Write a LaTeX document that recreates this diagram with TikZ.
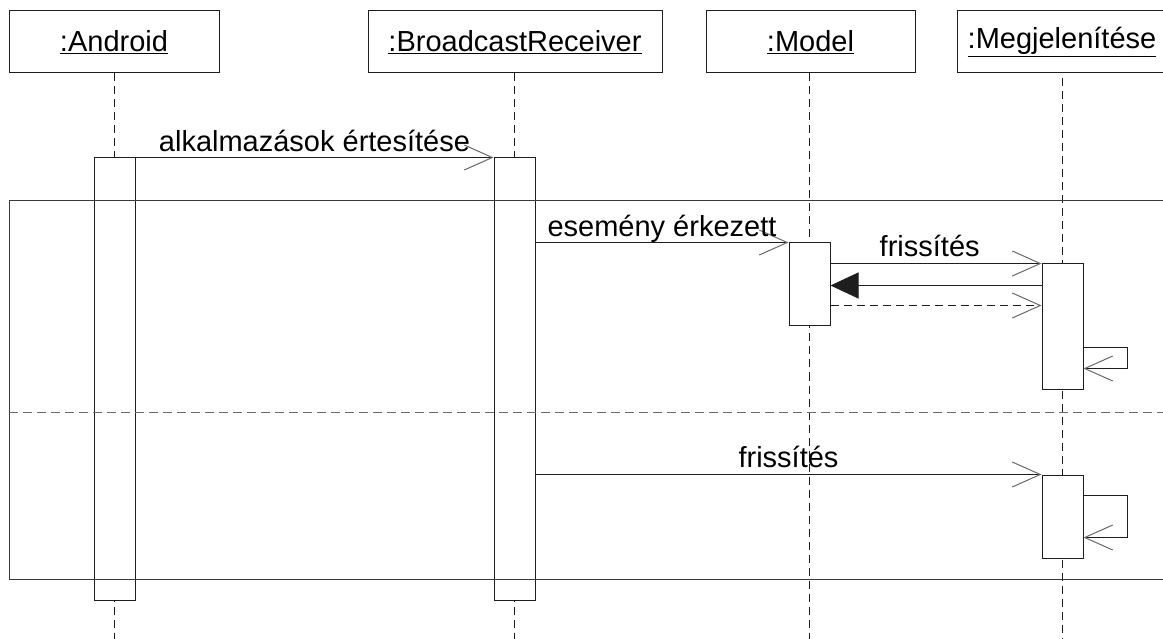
\documentclass[tikz,border=0pt]{standalone}
\usepackage{fontspec}
\setmainfont{Liberation Sans}
\usetikzlibrary{arrows.meta}
\definecolor{ln}{HTML}{1E1E1E}
\definecolor{tipc}{HTML}{6A6A6A}
\definecolor{frc}{HTML}{3A3A3A}
\tikzset{
  lbl/.style={font=\fontsize{29}{34}\selectfont, inner sep=0pt},
  head/.style={draw=ln, line width=1pt, minimum height=62pt, inner sep=0pt, lbl},
  act/.style={draw=ln, fill=white, line width=1pt, minimum width=41pt, inner sep=0pt},
  life/.style={draw=ln, line width=1pt, dash pattern=on 8pt off 5pt},
  msg/.style={draw=ln, line width=1pt, -{Straight Barb[length=28pt,width=25pt,color=tipc,line width=1pt]}},
  rep/.style={msg, dash pattern=on 8pt off 5pt},
  ret/.style={draw=ln, line width=1pt, -{Triangle[length=28pt,width=26pt]}},
  frame/.style={draw=frc, line width=1pt},
  sep/.style={draw=tipc, line width=1pt, dash pattern=on 9pt off 5pt}
}
\begin{document}
\begin{tikzpicture}[x=1pt,y=-1pt]
\useasboundingbox (0,0) rectangle (1163,639);
\clip (0,0) rectangle (1163,639);
\fill[white] (0,0) rectangle (1163,639);
% heads
\node[head, minimum width=210pt] (hA) at (114,42) {\underline{:Android}};
\node[head, minimum width=294pt] (hB) at (515,42) {\underline{:BroadcastReceiver}};
\node[head, minimum width=209pt] (hM) at (810.5,42) {\underline{:Model}};
\node[head, minimum width=210pt] (hG) at (1062,42) {\underline{:Megjelenítése}};
% end coordinates of lifelines
\coordinate (eA) at (114.5,645);
\coordinate (eB) at (514.5,645);
\coordinate (eM) at (809.5,645);
\coordinate (eG) at (1062.5,645);
% lifelines
\draw[life] (hA.south -| eA) -- (eA);
\draw[life] (hB.south -| eB) -- (eB);
\draw[life] (hM.south -| eM) -- (eM);
\draw[life] ([yshift=-5pt]hG.south -| eG) -- (eG);
% activations
\node[act, minimum height=442pt] (aA) at (114.5,379) {};
\node[act, minimum height=442pt] (aB) at (514.5,379) {};
\node[act, minimum height=83pt] (aM) at (809.5,284.5) {};
\node[act, minimum height=125pt] (aG1) at (1062.5,326.5) {};
\node[act, minimum height=83pt] (aG2) at (1062.5,516.5) {};
% combined fragment
\draw[frame] (9,201) -- (1180,201);
\draw[frame] (9,201) -- (9,579) -- (1180,579);
\draw[sep] (9,412) -- (1180,412);
% messages
\draw[msg] (aA.north east) -- (aB.north west)
  node[lbl, pos=0.5, anchor=base, yshift=6pt] {alkalmazások értesítése};
\draw[msg] (aM.north west -| aB.east) -- (aM.north west)
  node[lbl, pos=0.5, anchor=base, yshift=6pt] {esemény érkezett};
\draw[msg] (aM.east |- aG1.north) -- (aG1.north west)
  node[lbl, pos=0.47, anchor=base, yshift=7pt] {frissítés};
\coordinate (r1) at ([yshift=-22pt]aG1.north west);
\draw[ret] (r1) -- (r1 -| aM.east);
\coordinate (r2) at ([yshift=-42pt]aG1.north west);
\draw[rep] (r2 -| aM.east) -- (r2);
\coordinate (s1) at ([yshift=-84pt]aG1.north east);
\coordinate (s1e) at ([yshift=-105pt]aG1.north east);
\draw[msg] (s1) -- ++(44,0) |- (s1e);
\draw[msg] (aG2.north west -| aB.east) -- (aG2.north west)
  node[lbl, pos=0.5, anchor=base, yshift=7pt] {frissítés};
\coordinate (s2) at ([yshift=-21pt]aG2.north east);
\coordinate (s2e) at ([yshift=-63pt]aG2.north east);
\draw[msg] (s2) -- ++(44,0) |- (s2e);
\end{tikzpicture}
\end{document}
